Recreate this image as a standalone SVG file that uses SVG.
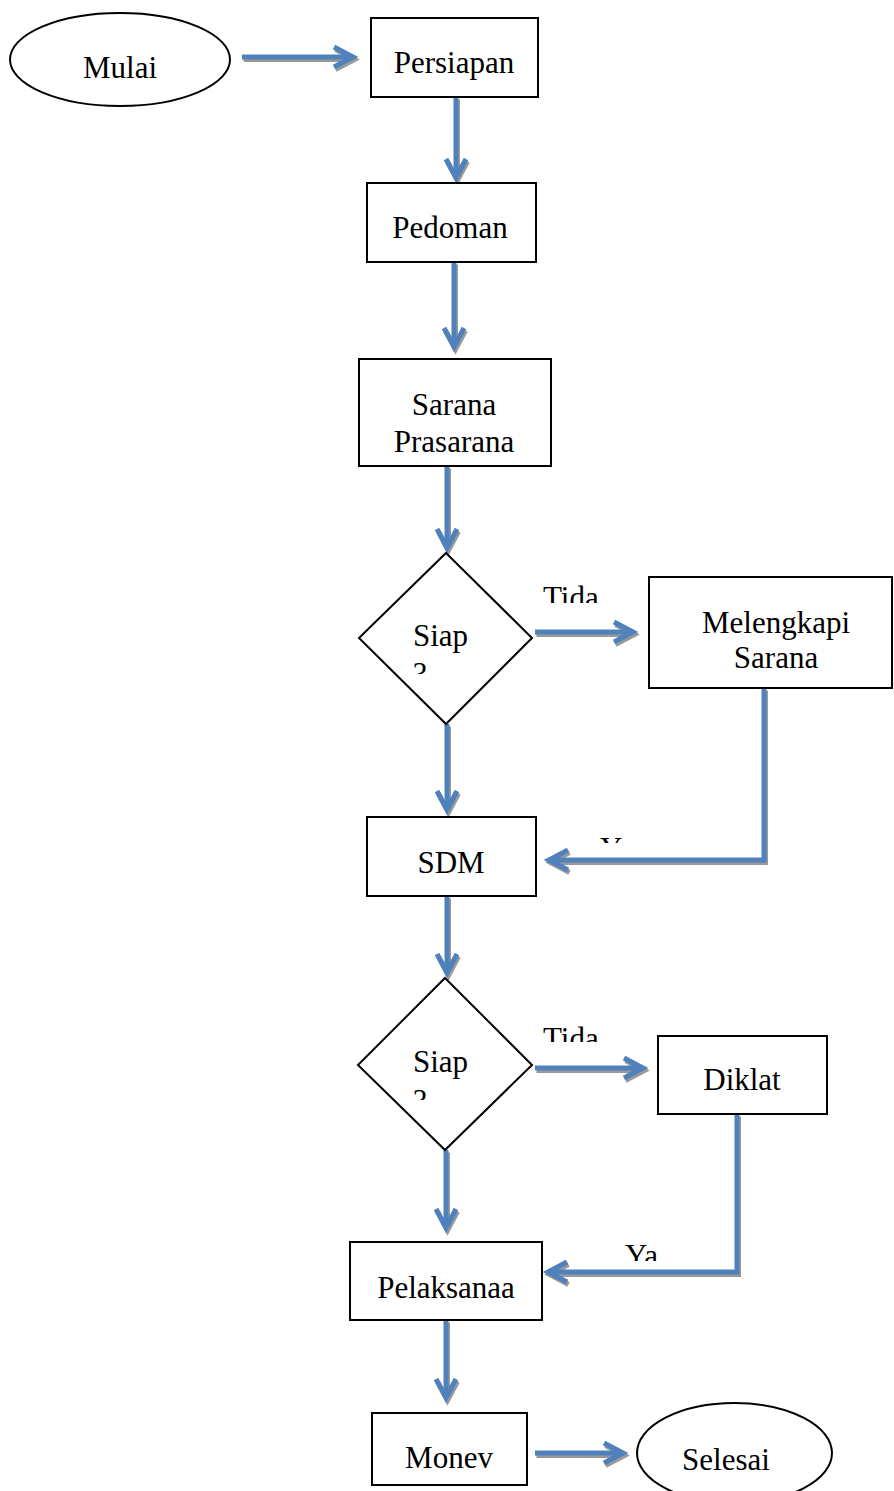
<svg xmlns="http://www.w3.org/2000/svg" width="894" height="1491" viewBox="0 0 894 1491">
  <style>
    .box { fill: #ffffff; stroke: #000000; stroke-width: 2; }
    .lbl { font-family: "Liberation Serif", "Times New Roman", serif; font-size: 31px; fill: #000000; }
    .mid { text-anchor: middle; }
    .flow { fill: none; stroke: #4F81BD; stroke-width: 5; stroke-linejoin: miter; }
    .shadow { fill: none; stroke: #999999; stroke-width: 5; stroke-linejoin: miter; }
  </style>
  <defs>
    <marker id="head" viewBox="-25 -15 30 30" markerWidth="30" markerHeight="30" refX="0" refY="0" orient="auto" markerUnits="userSpaceOnUse" overflow="visible">
      <path d="M-19,-10 L0,0 L-19,10" fill="none" stroke="#4F81BD" stroke-width="5" stroke-miterlimit="10"/>
    </marker>
    <marker id="headShadow" viewBox="-25 -15 30 30" markerWidth="30" markerHeight="30" refX="0" refY="0" orient="auto" markerUnits="userSpaceOnUse" overflow="visible">
      <path d="M-19,-10 L0,0 L-19,10" fill="none" stroke="#999999" stroke-width="5" stroke-miterlimit="10"/>
    </marker>
    <!-- text frames that cut off the small labels -->
    <clipPath id="clipTida1"><rect x="530" y="570" width="120" height="33"/></clipPath>
    <clipPath id="clipTida2"><rect x="530" y="1010" width="120" height="32"/></clipPath>
    <clipPath id="clipYa1"><rect x="590" y="820" width="80" height="23"/></clipPath>
    <clipPath id="clipYa2"><rect x="615" y="1230" width="80" height="31"/></clipPath>
    <clipPath id="clipQ1"><rect x="400" y="620" width="80" height="54"/></clipPath>
    <clipPath id="clipQ2"><rect x="400" y="1046" width="80" height="54"/></clipPath>
  </defs>

  <!-- connectors: gray offset copy underneath, blue on top -->
  <g id="connectors">
    <g transform="translate(1.5,2.5)">
      <path class="shadow" marker-end="url(#headShadow)" d="M242,57 H353"/>
      <path class="shadow" marker-end="url(#headShadow)" d="M456,97 V178"/>
      <path class="shadow" marker-end="url(#headShadow)" d="M454,262 V347"/>
      <path class="shadow" marker-end="url(#headShadow)" d="M447,466 V548"/>
      <path class="shadow" marker-end="url(#headShadow)" d="M535,632 H633"/>
      <path class="shadow" marker-end="url(#headShadow)" d="M447,724 V810"/>
      <path class="shadow" marker-end="url(#headShadow)" d="M764,688 V860 H549"/>
      <path class="shadow" marker-end="url(#headShadow)" d="M447,896 V973"/>
      <path class="shadow" marker-end="url(#headShadow)" d="M535,1068 H643"/>
      <path class="shadow" marker-end="url(#headShadow)" d="M446,1150 V1228"/>
      <path class="shadow" marker-end="url(#headShadow)" d="M737,1114 V1272 H548"/>
      <path class="shadow" marker-end="url(#headShadow)" d="M446,1320 V1398"/>
      <path class="shadow" marker-end="url(#headShadow)" d="M535,1453 H623"/>
    </g>
    <path class="flow" marker-end="url(#head)" d="M242,57 H353"/>
    <path class="flow" marker-end="url(#head)" d="M456,97 V178"/>
    <path class="flow" marker-end="url(#head)" d="M454,262 V347"/>
    <path class="flow" marker-end="url(#head)" d="M447,466 V548"/>
    <path class="flow" marker-end="url(#head)" d="M535,632 H633"/>
    <path class="flow" marker-end="url(#head)" d="M447,724 V810"/>
    <path class="flow" marker-end="url(#head)" d="M764,688 V860 H549"/>
    <path class="flow" marker-end="url(#head)" d="M447,896 V973"/>
    <path class="flow" marker-end="url(#head)" d="M535,1068 H643"/>
    <path class="flow" marker-end="url(#head)" d="M446,1150 V1228"/>
    <path class="flow" marker-end="url(#head)" d="M737,1114 V1272 H548"/>
    <path class="flow" marker-end="url(#head)" d="M446,1320 V1398"/>
    <path class="flow" marker-end="url(#head)" d="M535,1453 H623"/>

    <!-- branch labels -->
    <text class="lbl" x="543" y="608" clip-path="url(#clipTida1)">Tida</text>
    <text class="lbl" x="543" y="1049" clip-path="url(#clipTida2)">Tida</text>
    <text class="lbl" x="600" y="859" clip-path="url(#clipYa1)">Ya</text>
    <text class="lbl" x="625" y="1266" clip-path="url(#clipYa2)">Ya</text>
  </g>

  <g id="mulai">
    <ellipse class="box" cx="120" cy="59.5" rx="110" ry="46.5"/>
    <text class="lbl mid" x="120" y="78">Mulai</text>
  </g>

  <g id="persiapan">
    <rect class="box" x="371" y="18" width="167" height="79"/>
    <text class="lbl mid" x="454" y="73">Persiapan</text>
  </g>

  <g id="pedoman">
    <rect class="box" x="367" y="183" width="169" height="79"/>
    <text class="lbl mid" x="450" y="238">Pedoman</text>
  </g>

  <g id="sarana-prasarana">
    <rect class="box" x="359" y="359" width="192" height="107"/>
    <text class="lbl mid" x="454" y="415">Sarana</text>
    <text class="lbl mid" x="454" y="452">Prasarana</text>
  </g>

  <g id="siap-sarana">
    <polygon class="box" points="446,553 532,638 446,724 359,638"/>
    <text class="lbl" x="413" y="646">Siap</text>
    <text class="lbl" x="413" y="684" clip-path="url(#clipQ1)">?</text>
  </g>

  <g id="melengkapi-sarana">
    <rect class="box" x="649" y="577" width="243" height="111"/>
    <text class="lbl mid" x="776" y="633">Melengkapi</text>
    <text class="lbl mid" x="776" y="668">Sarana</text>
  </g>

  <g id="sdm">
    <rect class="box" x="367" y="817" width="169" height="79"/>
    <text class="lbl mid" x="451" y="873">SDM</text>
  </g>

  <g id="siap-sdm">
    <polygon class="box" points="445,978 532,1065 445,1150 358,1065"/>
    <text class="lbl" x="413" y="1072">Siap</text>
    <text class="lbl" x="413" y="1111" clip-path="url(#clipQ2)">?</text>
  </g>

  <g id="diklat">
    <rect class="box" x="658" y="1036" width="169" height="78"/>
    <text class="lbl mid" x="742" y="1090">Diklat</text>
  </g>

  <g id="pelaksanaan">
    <rect class="box" x="350" y="1242" width="192" height="78"/>
    <text class="lbl mid" x="446" y="1298">Pelaksanaa</text>
  </g>

  <g id="monev">
    <rect class="box" x="372" y="1413" width="155" height="72"/>
    <text class="lbl mid" x="449" y="1468">Monev</text>
  </g>

  <g id="selesai">
    <ellipse class="box" cx="734.5" cy="1453" rx="97.5" ry="50"/>
    <text class="lbl mid" x="726" y="1470">Selesai</text>
  </g>
</svg>
